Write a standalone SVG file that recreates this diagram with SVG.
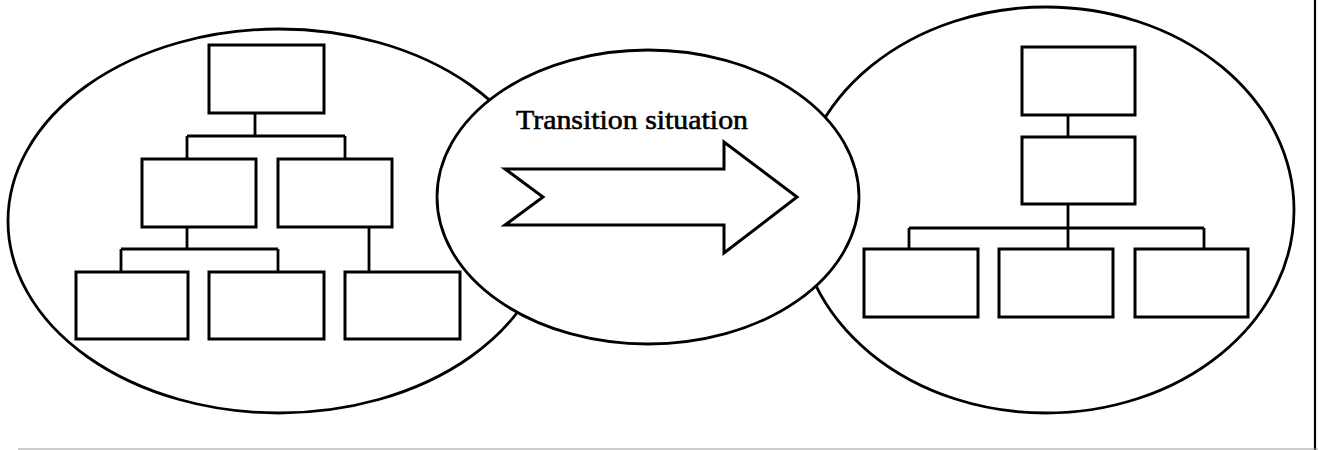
<svg xmlns="http://www.w3.org/2000/svg" width="1318" height="450" viewBox="0 0 1318 450">
<style>
.ell{fill:#fff;stroke:#000;stroke-width:2.8}
.box{fill:#fff;stroke:#000;stroke-width:3}
.con{fill:none;stroke:#000;stroke-width:2.8}
.lbl{font-family:"Liberation Serif","Times New Roman",serif;font-size:28px;fill:#000;stroke:#000;stroke-width:0.6}
</style>
<rect width="1318" height="450" fill="#fff"/>
<g id="frame">
<line x1="1315" y1="0" x2="1315" y2="450" stroke="#000" stroke-width="2.2"/>
<line x1="18" y1="449" x2="1318" y2="449" stroke="#999" stroke-width="1.2"/>
</g>
<g id="left-ellipse"><ellipse class="ell" cx="279" cy="221" rx="271" ry="192"/></g>
<g id="right-ellipse"><ellipse class="ell" cx="1046" cy="210" rx="248" ry="203"/></g>
<g id="middle-ellipse"><ellipse class="ell" cx="648" cy="197" rx="211" ry="147"/></g>
<g id="connectors">
<path class="con" d="M255 113V136M187 136H345M187 136V159M345 136V159"/>
<path class="con" d="M187 227V249M121 249H278M121 249V272M278 249V272"/>
<path class="con" d="M369 227V272"/>
<path class="con" d="M1068 115V137"/>
<path class="con" d="M1068 204V249M909 228H1204M909 228V249M1204 228V249"/>
</g>
<g id="left-top"><rect class="box" x="209" y="45" width="115" height="68"/></g>
<g id="left-mid-1"><rect class="box" x="142" y="159" width="114" height="68"/></g>
<g id="left-mid-2"><rect class="box" x="278" y="159" width="114" height="68"/></g>
<g id="left-bot-1"><rect class="box" x="76" y="272" width="112" height="67"/></g>
<g id="left-bot-2"><rect class="box" x="209" y="272" width="115" height="67"/></g>
<g id="left-bot-3"><rect class="box" x="345" y="272" width="115" height="67"/></g>
<g id="right-top"><rect class="box" x="1022" y="47" width="113" height="68"/></g>
<g id="right-mid"><rect class="box" x="1022" y="137" width="113" height="67"/></g>
<g id="right-bot-1"><rect class="box" x="864" y="249" width="114" height="68"/></g>
<g id="right-bot-2"><rect class="box" x="999" y="249" width="114" height="68"/></g>
<g id="right-bot-3"><rect class="box" x="1135" y="249" width="113" height="68"/></g>
<g id="transition-arrow">
<polygon class="box" points="505,169 724,169 724,142 797,197 724,253 724,225 505,225 543,197"/>
<text class="lbl" x="516" y="129" textLength="232" lengthAdjust="spacingAndGlyphs">Transition situation</text>
</g>
</svg>
